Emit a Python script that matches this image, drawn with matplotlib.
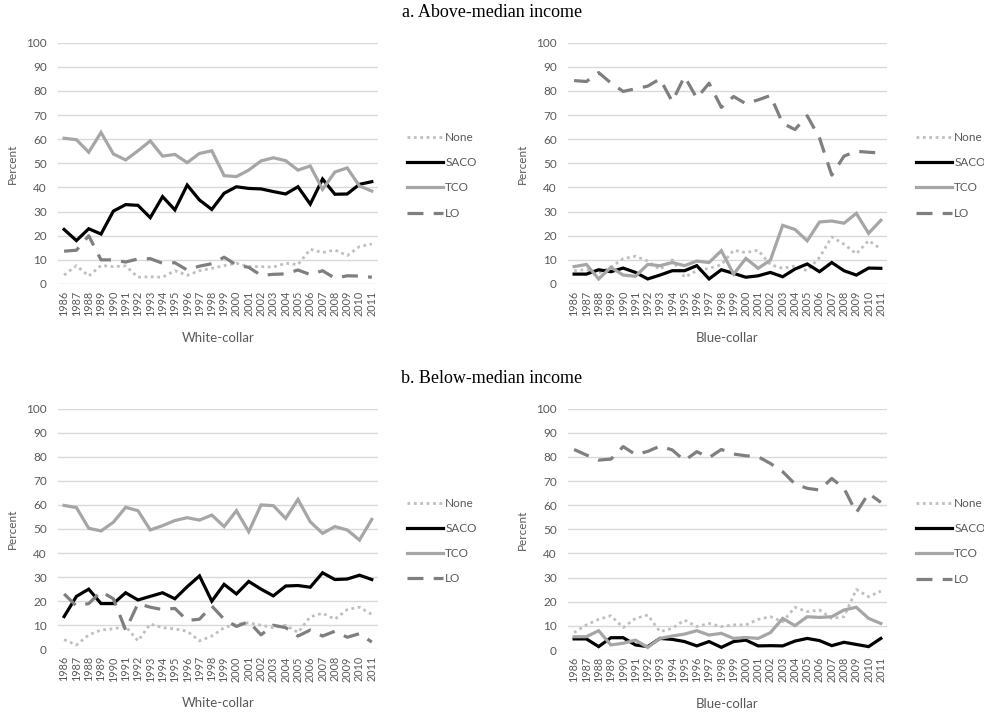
import matplotlib
matplotlib.use("Agg")
import matplotlib.pyplot as plt

years = [str(y) for y in range(1986, 2012)]
series_names = ["None", "SACO", "TCO", "LO"]

# a. Above-median income, white-collar
a_white_none = [3.7, 7.6, 3.3, 7.7, 7.2, 7.5, 2.8, 3.0, 2.8, 5.5, 3.6, 5.5, 6.5, 7.6, 8.6, 7.2, 7.2, 7.0, 8.6, 8.0, 14.4, 13.0, 14.1, 11.8, 15.5, 16.6]
a_white_saco = [22.6, 18.0, 22.9, 20.7, 30.2, 32.9, 32.6, 27.5, 36.2, 30.7, 41.0, 34.8, 30.9, 37.6, 40.3, 39.6, 39.4, 38.3, 37.3, 40.3, 33.1, 43.5, 37.2, 37.3, 41.3, 42.4]
a_white_tco = [60.4, 59.8, 54.6, 62.8, 53.9, 51.4, 55.2, 59.3, 53.0, 53.7, 50.3, 54.1, 55.2, 44.9, 44.5, 47.2, 51.0, 52.3, 51.1, 47.2, 48.9, 39.2, 46.4, 48.1, 40.6, 38.5]
a_white_lo = [13.6, 14.0, 20.0, 10.0, 10.0, 9.1, 10.4, 10.5, 8.6, 8.8, 5.8, 7.4, 8.4, 11.1, 7.9, 6.9, 3.6, 4.0, 4.2, 5.8, 3.9, 5.5, 2.4, 3.4, 3.3, 2.8]

# a. Above-median income, blue-collar
a_blue_none = [5.5, 6.0, 4.5, 7.0, 10.5, 11.5, 9.5, 6.0, 10.0, 2.8, 5.5, 6.5, 8.0, 14.0, 13.0, 14.0, 8.0, 6.5, 7.5, 5.5, 11.0, 19.5, 16.5, 12.5, 18.0, 14.5]
a_blue_saco = [4.1, 4.1, 5.9, 5.1, 6.6, 4.8, 2.1, 3.7, 5.5, 5.5, 7.6, 2.1, 5.9, 4.4, 2.8, 3.4, 4.8, 3.0, 6.2, 8.3, 5.1, 8.9, 5.5, 3.7, 6.6, 6.5]
a_blue_tco = [7.2, 8.1, 2.1, 6.9, 3.7, 3.2, 8.1, 7.6, 8.9, 7.6, 9.5, 8.9, 13.8, 4.1, 10.6, 6.5, 9.9, 24.3, 22.6, 17.9, 25.7, 26.1, 25.2, 29.3, 21.0, 26.4]
a_blue_lo = [84.3, 83.9, 87.6, 83.3, 79.8, 80.9, 82.0, 85.0, 75.6, 86.0, 77.0, 83.2, 73.2, 77.7, 74.7, 76.3, 78.1, 66.6, 64.0, 69.7, 60.5, 45.1, 53.0, 55.0, 54.6, 54.3]

# b. Below-median income, white-collar
b_white_none = [4.0, 1.8, 6.0, 8.0, 8.5, 9.5, 3.5, 10.5, 9.0, 8.5, 7.5, 3.5, 5.5, 9.0, 10.5, 11.0, 10.0, 9.0, 10.0, 7.0, 13.5, 15.0, 12.5, 16.5, 17.5, 14.5]
b_white_saco = [13.6, 22.0, 25.0, 19.0, 19.0, 23.5, 20.5, 22.0, 23.5, 21.0, 26.0, 30.5, 20.0, 27.0, 23.0, 28.2, 25.0, 22.2, 26.3, 26.5, 25.8, 31.8, 29.0, 29.2, 30.8, 29.0]
b_white_tco = [59.8, 58.9, 50.3, 49.2, 52.8, 59.0, 57.6, 49.6, 51.4, 53.5, 54.7, 53.7, 55.8, 51.0, 57.6, 48.9, 60.0, 59.7, 54.4, 62.3, 53.0, 48.2, 51.0, 49.6, 45.4, 54.0]
b_white_lo = [23.0, 18.0, 19.0, 24.0, 21.0, 8.0, 19.0, 17.5, 16.5, 17.0, 12.0, 12.5, 18.0, 12.5, 9.5, 11.5, 6.0, 10.0, 9.0, 5.5, 8.0, 5.5, 7.5, 5.0, 6.5, 3.0]

# b. Below-median income, blue-collar
b_blue_none = [7.2, 10.4, 12.7, 14.2, 9.3, 13.1, 14.5, 7.6, 9.0, 12.4, 9.7, 11.0, 9.7, 10.4, 10.4, 12.7, 13.8, 11.7, 17.7, 15.9, 16.6, 13.1, 13.8, 25.1, 22.1, 24.4]
b_blue_saco = [4.6, 4.6, 1.4, 5.1, 5.1, 2.1, 1.4, 4.8, 4.4, 3.5, 1.7, 3.5, 1.1, 3.5, 4.1, 1.7, 1.8, 1.7, 3.7, 4.8, 3.9, 1.8, 3.2, 2.3, 1.4, 4.8]
b_blue_tco = [5.5, 5.5, 8.0, 2.1, 2.8, 4.1, 1.1, 4.8, 5.8, 6.6, 8.0, 6.2, 6.9, 4.8, 5.2, 4.8, 7.2, 13.1, 10.1, 13.8, 13.5, 13.8, 16.6, 17.7, 13.1, 11.0]
b_blue_lo = [83.1, 80.8, 78.7, 79.1, 84.3, 81.0, 82.3, 84.5, 82.9, 78.5, 82.2, 79.7, 83.1, 81.2, 80.5, 80.1, 77.3, 73.9, 68.8, 67.0, 66.3, 71.1, 67.0, 56.9, 64.9, 61.2]

panels = [
    ([0.0589, 0.6028, 0.3252, 0.3375], "White-collar", [a_white_none, a_white_saco, a_white_tco, a_white_lo]),
    ([0.5772, 0.6028, 0.3242, 0.3375], "Blue-collar", [a_blue_none, a_blue_saco, a_blue_tco, a_blue_lo]),
    ([0.0589, 0.0919, 0.3252, 0.3365], "White-collar", [b_white_none, b_white_saco, b_white_tco, b_white_lo]),
    ([0.5772, 0.0909, 0.3242, 0.3375], "Blue-collar", [b_blue_none, b_blue_saco, b_blue_tco, b_blue_lo]),
]

styles = [
    dict(color="#bfbfbf", lw=2.0, linestyle=(0, (1, 1.3))),
    dict(color="#000000", lw=2.3, linestyle="-"),
    dict(color="#a6a6a6", lw=2.3, linestyle="-"),
    dict(color="#7f7f7f", lw=2.3, linestyle=(0, (5, 3.2))),
]

plt.rcParams["font.family"] = ["Lato", "DejaVu Sans"]
txt = "#595959"

fig = plt.figure(figsize=(9.84, 7.15), dpi=100)

for rect, xlabel, data in panels:
    ax = fig.add_axes(rect)
    x = list(range(len(years)))
    for vals, name, st in zip(data, series_names, styles):
        ax.plot(x, vals, label=name, solid_joinstyle="miter", dash_capstyle="butt", **st)
    ax.set_xlim(-0.5, len(years) - 0.5)
    ax.set_ylim(0, 100)
    ax.set_yticks(range(0, 101, 10))
    ax.set_xticks(x)
    ax.set_xticklabels(years, rotation=90, fontsize=7.8, color=txt)
    ax.tick_params(axis="y", labelsize=8.5, labelcolor=txt, length=0, pad=8)
    ax.tick_params(axis="x", length=0, pad=5)
    ax.grid(axis="y", color="#d9d9d9", lw=1.0)
    ax.set_axisbelow(True)
    for s in ax.spines.values():
        s.set_visible(False)
    ax.set_ylabel("Percent", fontsize=8.5, color=txt, labelpad=6)
    ax.set_xlabel(xlabel, fontsize=9.5, color=txt, labelpad=11)
    ax.legend(loc="center left", bbox_to_anchor=(1.072, 0.45), frameon=False,
              fontsize=8.5, labelcolor=txt, handlelength=3.1, handletextpad=0.15,
              borderpad=0, labelspacing=1.2)

fig.text(0.5, 0.983, "a. Above-median income", ha="center", va="center",
         fontsize=13, family="Liberation Serif")
fig.text(0.5, 0.471, "b. Below-median income", ha="center", va="center",
         fontsize=13, family="Liberation Serif")

fig.savefig("out.png", dpi=100)
